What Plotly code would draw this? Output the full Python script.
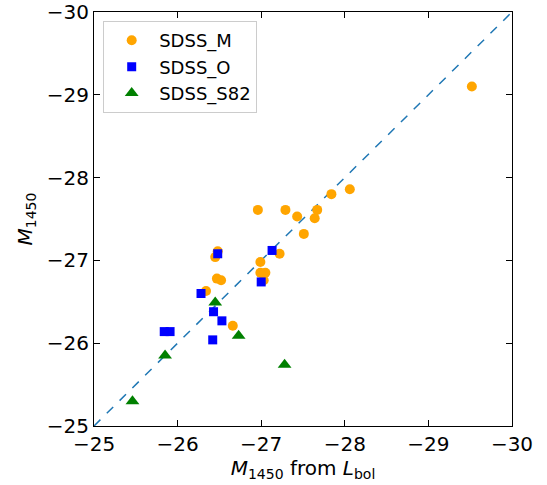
import plotly.graph_objects as go

# SDSS_M (orange circles)
m_x = [-29.52, -28.06, -27.84, -26.96, -27.29, -27.43, -27.67, -27.64, -27.51, -27.22,
       -26.99, -26.99, -27.05, -27.03, -26.48, -26.45, -26.47, -26.52, -26.34, -26.66]
m_y = [-29.10, -27.86, -27.80, -27.61, -27.61, -27.53, -27.61, -27.51, -27.32, -27.08,
       -26.98, -26.85, -26.85, -26.76, -27.11, -27.04, -26.78, -26.76, -26.63, -26.21]

# SDSS_O (blue squares)
o_x = [-27.13, -27.00, -26.48, -26.28, -26.43, -26.53, -25.84, -25.91, -26.42]
o_y = [-27.12, -26.74, -27.08, -26.60, -26.38, -26.27, -26.14, -26.14, -26.04]

# SDSS_S82 (green triangles)
s_x = [-26.45, -26.73, -25.85, -27.28, -25.46]
s_y = [-26.49, -26.09, -25.85, -25.74, -25.30]

line_vals = [-25, -30]
x_ticks = [-25, -26, -27, -28, -29, -30]
y_ticks = [-25, -26, -27, -28, -29, -30]

fig = go.Figure()
fig.add_trace(go.Scatter(x=line_vals, y=line_vals, mode="lines",
                         line=dict(color="#1f77b4", width=1.5, dash="dash"),
                         showlegend=False, hoverinfo="skip"))
fig.add_trace(go.Scatter(x=m_x, y=m_y, mode="markers", name="SDSS_M",
                         marker=dict(color="orange", size=10, symbol="circle")))
fig.add_trace(go.Scatter(x=o_x, y=o_y, mode="markers", name="SDSS_O",
                         marker=dict(color="blue", size=9, symbol="square")))
fig.add_trace(go.Scatter(x=s_x, y=s_y, mode="markers", name="SDSS_S82",
                         marker=dict(color="green", size=12, symbol="triangle-up")))

axis_common = dict(showline=True, linecolor="black", linewidth=1.2, mirror="ticks",
                   ticks="inside", ticklen=6, tickwidth=1.2, tickcolor="black",
                   showgrid=False, zeroline=False, automargin=False,
                   ticklabeloverflow="allow",
                   tickfont=dict(family="DejaVu Sans", size=20, color="black"))

fig.update_layout(
    width=547, height=485,
    margin=dict(l=94, r=35, t=12, b=59),
    plot_bgcolor="white", paper_bgcolor="white",
    font=dict(family="DejaVu Sans", color="black"),
    xaxis=dict(range=[-24.9999, -30.0001], tickvals=x_ticks,
               title=dict(text="<i>M</i><sub>1450</sub> from <i>L</i><sub>bol</sub>",
                          font=dict(size=20), standoff=4),
               **axis_common),
    yaxis=dict(range=[-24.9999, -30.0001], tickvals=y_ticks,
               title=dict(text="<i>M</i><sub>1450</sub>", font=dict(size=20), standoff=8),
               **axis_common),
    legend=dict(x=0.022, y=0.978, xanchor="left", yanchor="top",
                bgcolor="white", bordercolor="#cccccc", borderwidth=1,
                font=dict(size=18), itemwidth=45, tracegroupgap=0),
)

fig.write_html("out.html", config={"displayModeBar": False},
               post_script="document.body.style.margin='0';")
